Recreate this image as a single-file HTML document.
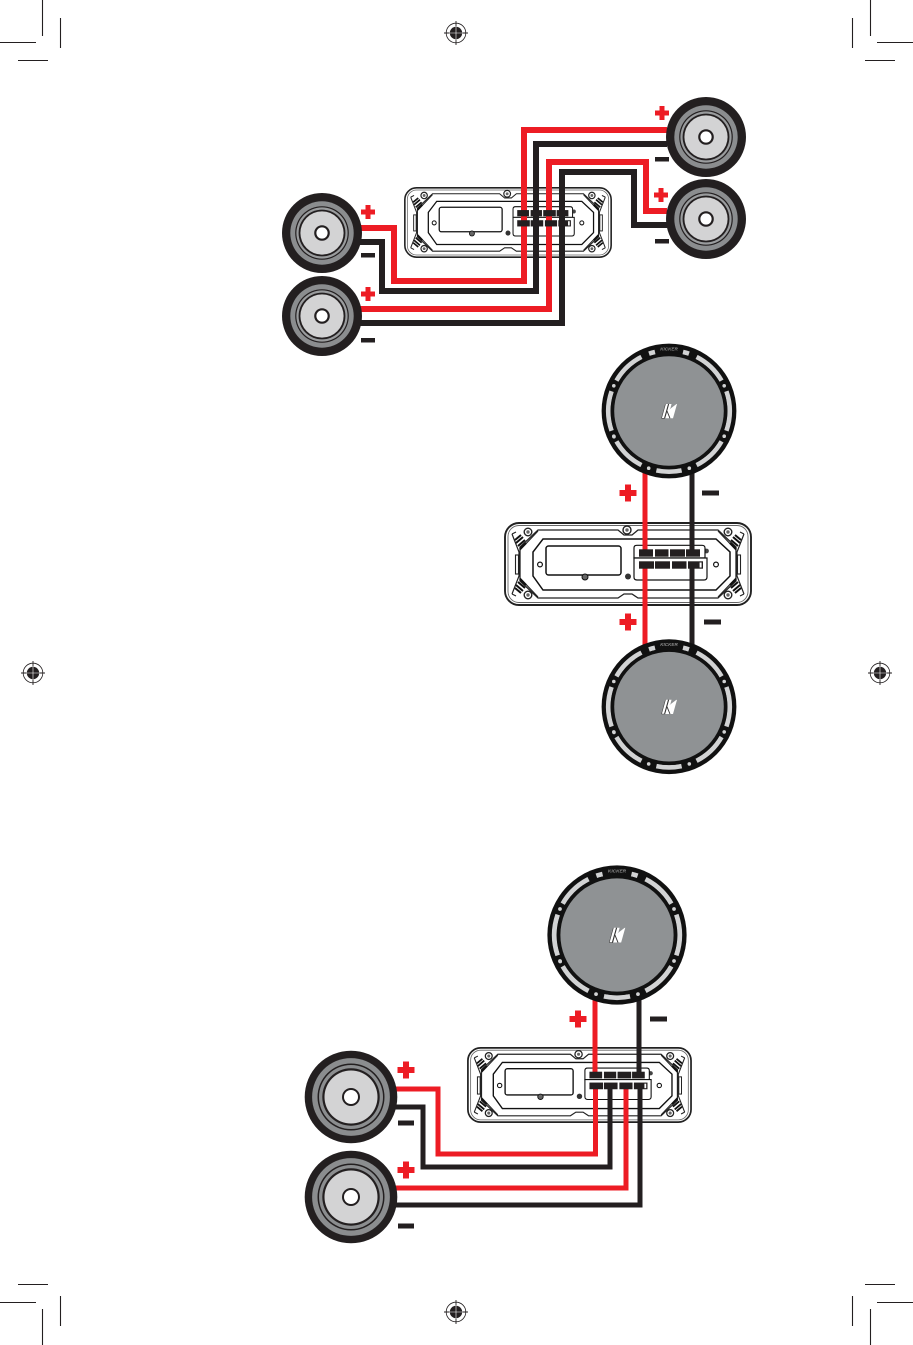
<!DOCTYPE html>
<html>
<head>
<meta charset="utf-8">
<style>
html,body{margin:0;padding:0;background:#fff;width:913px;height:1345px;overflow:hidden}
svg{display:block}
</style>
</head>
<body>
<svg width="913" height="1345" viewBox="0 0 913 1345" xmlns="http://www.w3.org/2000/svg">
<defs>
  <g id="reg">
    <circle r="9.8" fill="#fff" stroke="#231f20" stroke-width="0.8"/>
    <circle r="6.2" fill="#231f20"/>
    <path d="M-6.5,0H6.5M0,-6.5V6.5" stroke="#fff" stroke-width="0.6"/>
    <path d="M-12,0H-6.5M6.5,0H12M0,-12V-6.5M0,6.5V12" stroke="#231f20" stroke-width="0.9"/>
  </g>
  <g id="side" fill="none" stroke="#222" stroke-width="1.2">
    <path d="M8,12 L15,30 V54 L8,72"/>
    <path d="M8,12 L12,10 M8,72 L12,74"/>
    <path d="M16,28 L34,9 M16,56 L34,75"/>
    <rect x="11.5" y="33" width="3" height="19" stroke-width="1.1"/>
    <g stroke="#111" stroke-width="2">
      <path d="M11,18L17,13M12,21L19,15M14,24L21,18M16,27L22,21"/>
      <path d="M11,66L17,71M12,63L19,69M14,60L21,66M16,57L22,63"/>
    </g>
    <circle cx="24" cy="10" r="3.8" stroke-width="1.4"/>
    <circle cx="24" cy="10" r="1.7" fill="#666" stroke="none"/>
    <circle cx="24" cy="73" r="3.8" stroke-width="1.4"/>
    <circle cx="24" cy="73" r="1.7" fill="#666" stroke="none"/>
  </g>
  <g id="amp">
    <rect x="1" y="1" width="246" height="82" rx="14" fill="#fff" stroke="#222" stroke-width="1.9"/>
    <rect x="4" y="3.5" width="240" height="77" rx="11" fill="none" stroke="#666" stroke-width="0.9"/>
    <path d="M34,8 H114 L120,13 H128 L134,8 H214 L232,25 V59 L214,76 H134 L128,72 H120 L114,76 H34 L16,59 V25 Z" fill="#fff" stroke="#222" stroke-width="1.3"/>
    <path d="M39,17 H212 L226,30 V54 L212,68 H39 L29,54 V30 Z" fill="#fff" stroke="#111" stroke-width="1.5"/>
    <use href="#side"/>
    <use href="#side" transform="translate(248,0) scale(-1,1)"/>
    <rect x="42" y="24" width="75" height="29" rx="2.5" fill="#fff" stroke="#111" stroke-width="1.5"/>
    <circle cx="36" cy="42.5" r="2.4" fill="#fff" stroke="#111" stroke-width="1.2"/>
    <circle cx="212" cy="42.5" r="2.4" fill="#fff" stroke="#111" stroke-width="1.2"/>
    <circle cx="81" cy="55" r="3" fill="#666" stroke="#111" stroke-width="1"/>
    <circle cx="124" cy="54.5" r="3" fill="#333"/>
    <circle cx="123" cy="8" r="4" fill="#fff" stroke="#222" stroke-width="1.4"/>
    <circle cx="123" cy="8" r="1.7" fill="#666"/>
    <circle cx="202.5" cy="29" r="2.4" fill="#444"/>
    <path d="M133,23.3 H198 Q201,23.3 201,26 V36 H130 V26 Q130,23.3 133,23.3 Z" fill="#fff" stroke="#111" stroke-width="1.2"/>
    <path d="M130,36 H203 V55 Q203,58 200,58 H133 Q130,58 130,55 Z" fill="#fff" stroke="#111" stroke-width="1.2"/>
  </g>
  <g id="term" fill="#231f20">
    <rect x="135" y="27.3" width="14" height="7.4"/>
    <rect x="151" y="27.3" width="13.5" height="7.4"/>
    <rect x="166" y="27.3" width="15" height="7.4"/>
    <rect x="182" y="27.3" width="14" height="7.4"/>
    <rect x="135" y="39.3" width="15" height="7.4"/>
    <rect x="151" y="39.3" width="15" height="7.4"/>
    <rect x="168" y="39.3" width="14.5" height="7.4"/>
    <rect x="184" y="39.3" width="15" height="7.4"/>
    <rect x="195.6" y="40.5" width="2" height="5" fill="#fff"/>
  </g>
  <g id="spk">
    <circle r="40" fill="#231f20"/>
    <circle r="31.7" fill="#8b8d8f"/>
    <circle r="26.8" fill="#231f20"/>
    <circle r="25.6" fill="#9a9c9e"/>
    <circle r="23.4" fill="#231f20"/>
    <circle r="21.6" fill="#d3d3d4"/>
    <circle r="7.8" fill="#231f20"/>
    <circle r="5.6" fill="#fff"/>
  </g>
  <g id="spkb">
    <circle r="46.3" fill="#231f20"/>
    <circle r="38.9" fill="#8b8d8f"/>
    <circle r="33.5" fill="#231f20"/>
    <circle r="32" fill="#8b8d8f"/>
    <circle r="28.7" fill="#231f20"/>
    <circle r="26.5" fill="#d3d3d4"/>
    <circle r="9" fill="#231f20"/>
    <circle r="7" fill="#fff"/>
  </g>
  <g id="sub">
    <circle r="67.4" fill="#111"/>
    <g fill="none" stroke="#d2d3d4" stroke-width="4.6">
      <path d="M57.4,-19.76 A60.7,60.7 0 0 1 57.4,19.76"/>
      <path d="M52.57,30.35 A60.7,60.7 0 0 1 27.56,54.08"/>
      <path d="M12.62,59.37 A60.7,60.7 0 0 1 -12.62,59.37"/>
      <path d="M-27.56,54.08 A60.7,60.7 0 0 1 -52.57,30.35"/>
      <path d="M-57.4,19.76 A60.7,60.7 0 0 1 -57.4,-19.76"/>
      <path d="M-52.57,-30.35 A60.7,60.7 0 0 1 -27.56,-54.08"/>
      <path d="M27.56,-54.08 A60.7,60.7 0 0 1 52.57,-30.35"/>
      <path d="M-20,-57.3 A60.7,60.7 0 0 1 -14,-59"/>
      <path d="M14,-59 A60.7,60.7 0 0 1 20,-57.3"/>
    </g>
    <g fill="#d2d3d4">
      <circle cx="55.2" cy="25.2" r="1.8"/><circle cx="20.3" cy="57.2" r="1.8"/>
      <circle cx="-20.3" cy="57.2" r="1.8"/><circle cx="-55" cy="25.7" r="1.8"/>
      <circle cx="-55.2" cy="-25.2" r="1.8"/><circle cx="-55.2" cy="25.2" r="1.8"/>
      <circle cx="55.2" cy="-25.2" r="1.8"/>
    </g>
    <text x="0" y="-60.5" text-anchor="middle" font-family="Liberation Sans, sans-serif" font-size="4.6" font-style="italic" font-weight="bold" fill="#8a8a8a">KICKER</text>
    <circle r="58.3" fill="#111"/>
    <circle r="54.8" fill="#8f9294"/>
    <path d="M-3.5,-7 L8,-7 L4,7.3 L-7.5,7.3 Z" fill="#fff"/>
    <path d="M2.6,-7.2 L7.8,-7.2 L0.2,-1.4 L1.5,-3 Z" fill="#8f9294"/>
    <path d="M-0.4,-7 L-4.4,7.3" stroke="#333" stroke-width="1.1" fill="none"/>
    <path d="M-2,0 L1,7.3" stroke="#333" stroke-width="0.9" fill="none"/>
    <path d="M-3.5,-7 L-7.5,7.3 M-7.5,7.3 H-4" stroke="#444" stroke-width="0.6" fill="none"/>
  </g>
  <g id="plus" fill="#ed1c24"><rect x="-7" y="-2.5" width="14" height="5"/><rect x="-2.5" y="-7" width="5" height="14"/></g>
  <g id="plusb" fill="#ed1c24"><rect x="-8.5" y="-3" width="17" height="6"/><rect x="-3" y="-8.5" width="6" height="17"/></g>
</defs>
<rect width="913" height="1345" fill="#fff"/>

<!-- crop marks -->
<g stroke="#231f20" stroke-width="1.1" fill="none">
  <path d="M42.5,0V36M60.5,18V48M0,42.5H36M18,60.5H48"/>
  <path d="M870.5,0V36M852.5,18V48M913,42.5H877M895,60.5H865"/>
  <path d="M42.5,1345V1309M60.5,1326V1296M0,1302.5H36M18,1284.5H48"/>
  <path d="M870.5,1345V1309M852.5,1326V1296M913,1302.5H877M895,1284.5H865"/>
</g>
<use href="#reg" x="456" y="33"/>
<use href="#reg" x="33" y="673"/>
<use href="#reg" x="880" y="673"/>
<use href="#reg" x="456" y="1312"/>

<!-- Section 1 -->
<use href="#amp" transform="translate(404,187) scale(.8387,.845)"/>
<g fill="none" stroke-width="6" stroke-linejoin="miter">
  <path d="M667,130 H524 V281 H394 V228 H360" stroke="#ed1c24"/>
  <path d="M667,144 H536 V291 H382 V242 H360" stroke="#231f20"/>
  <path d="M667,211 H646 V162 H549 V309 H360" stroke="#ed1c24"/>
  <path d="M667,225 H634 V172 H562 V323 H360" stroke="#231f20"/>
</g>
<use href="#term" transform="translate(404,187) scale(.8387,.845)"/>
<use href="#spk" x="706" y="137"/>
<use href="#spk" x="706" y="219"/>
<use href="#spk" x="322" y="233"/>
<use href="#spk" x="322" y="316"/>
<use href="#plus" x="662" y="113"/>
<rect x="655" y="157" width="14" height="4.5" fill="#231f20"/>
<use href="#plus" x="661" y="195"/>
<rect x="655" y="239" width="14" height="4.5" fill="#231f20"/>
<use href="#plus" x="368" y="212"/>
<rect x="361" y="253" width="14" height="4.5" fill="#231f20"/>
<use href="#plus" x="368" y="294"/>
<rect x="361" y="338" width="14" height="4.5" fill="#231f20"/>

<!-- Section 2 -->
<use href="#amp" transform="translate(504,522)"/>
<g fill="none" stroke-width="5">
  <path d="M645,465 V552" stroke="#ed1c24"/>
  <path d="M645,565 V650" stroke="#ed1c24"/>
  <path d="M692,465 V552" stroke="#231f20"/>
  <path d="M692,565 V650" stroke="#231f20"/>
</g>
<use href="#term" transform="translate(504,522)"/>
<use href="#sub" x="669" y="411"/>
<use href="#sub" x="669" y="706.7"/>
<use href="#plusb" x="628" y="493"/>
<rect x="702" y="490.5" width="17" height="5" fill="#231f20"/>
<use href="#plusb" x="628" y="622"/>
<rect x="704" y="619.5" width="17" height="5" fill="#231f20"/>

<!-- Section 3 -->
<use href="#amp" transform="translate(467,1047) scale(.907,.905)"/>
<g fill="none" stroke-width="5">
  <path d="M595,995 V1075" stroke="#ed1c24"/>
  <path d="M639,995 V1075" stroke="#231f20"/>
  <path d="M392,1089 H438 V1154 H595.5 V1085" stroke="#ed1c24"/>
  <path d="M392,1107 H423 V1167 H610 V1085" stroke="#231f20"/>
  <path d="M392,1188 H626 V1085" stroke="#ed1c24"/>
  <path d="M392,1205 H640 V1085" stroke="#231f20"/>
</g>
<use href="#term" transform="translate(467,1047) scale(.907,.905)"/>
<use href="#sub" transform="translate(617,935) scale(1.033)"/>
<use href="#spkb" x="351" y="1097"/>
<use href="#spkb" x="351" y="1197"/>
<use href="#plusb" x="578" y="1019"/>
<rect x="650" y="1016.5" width="17" height="5" fill="#231f20"/>
<use href="#plusb" x="406" y="1070"/>
<rect x="398" y="1120.5" width="16" height="5" fill="#231f20"/>
<use href="#plusb" x="406" y="1170"/>
<rect x="398" y="1223.5" width="16" height="5" fill="#231f20"/>
</svg>
</body>
</html>
